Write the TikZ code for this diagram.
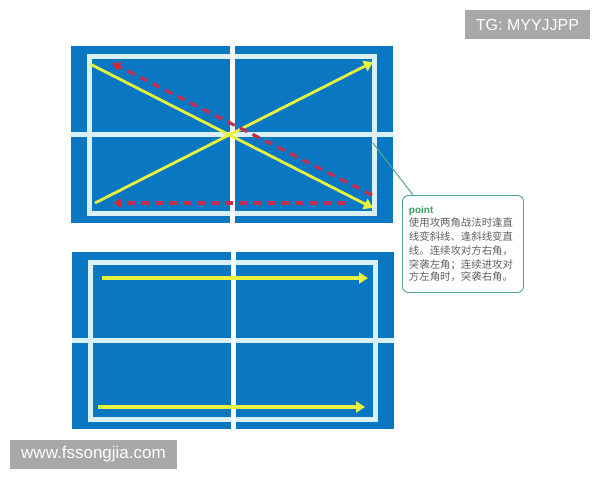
\documentclass[tikz,border=0pt]{standalone}
\usepackage{fontspec}
\setmainfont{Liberation Sans}
\newfontfamily\cjk{Noto Sans CJK SC}
\usetikzlibrary{arrows.meta,calc}
\definecolor{courtblue}{HTML}{0A77C2}
\definecolor{linecyan}{HTML}{D9F1F6}
\definecolor{ballyellow}{HTML}{E9F43C}
\definecolor{dashred}{HTML}{C22F4C}
\definecolor{tipred}{HTML}{E5202E}
\definecolor{noteteal}{HTML}{4FA690}
\definecolor{notegreen}{HTML}{3E9E5E}
\definecolor{notegray}{HTML}{606060}
\definecolor{markgray}{HTML}{A8A8A8}
\tikzset{
  ballpath/.style={ballyellow, line width=2.8, -{Triangle[length=9,width=11]}},
  redpath/.style={dashred, line width=3.2, dash pattern=on 8 off 6,
    -{Latex[length=8,width=10,color=tipred]}},
  markbox/.style={fill=markgray, text=white, inner sep=0, minimum height=29}
}
\def\court(#1,#2){%
  \begin{scope}[shift={(#1,#2)}]
    \fill[courtblue] (0,0) rectangle (322,177);
    \draw[linecyan, line width=5] (0,88.5) -- (322,88.5);
    \draw[linecyan, line width=5] (18.5,10) rectangle (303.5,167.5);
    \fill[white] (158.5,0) rectangle (163.5,177);
  \end{scope}}

\begin{document}
\begin{tikzpicture}[x=1pt,y=-1pt]
			%%%%% START %%%%%
			\useasboundingbox (0,0) rectangle (600,480);
			
			\court(71,46)
			\court(72,252)
			
			% top court: cross shots
			\draw[ballpath] (90,64) -- (373,208);
			\draw[ballpath] (95,203) -- (373,62);
			\draw[redpath] (372,195) -- (112,63);
			\draw[redpath] (345,203) -- (113,203);
			
			% bottom court: straight shots
			\draw[ballpath, line width=3.2] (102,278) -- (368,278);
			\draw[ballpath, line width=3.2] (98,407) -- (365,407);
			
			% note
			\node[draw=noteteal, fill=white, rounded corners=6, line width=0.9,
			  minimum width=121, minimum height=97, text width=108, inner xsep=6.5,
			  align=left, anchor=north west] (note) at (402,195)
			  {{\color{notegreen}\fontsize{10}{12}\selectfont\bfseries point}\\[-1pt]
			   \color{notegray}\cjk\fontsize{10.4}{14.2}\selectfont
			   使用攻两角战法时逢直\\线变斜线、逢斜线变直\\线。连续攻对方右角，\\突袭左角；连续进攻对\\方左角时，突袭右角。};
			\coordinate (netend) at (373,143);
			\draw[noteteal, line width=1] (netend) -- ($(note.north west)+(11,0)$);
			
			% marks
			\node[markbox, minimum width=125, font=\fontsize{16}{16}\selectfont] (tg) at (527.5,24.5) {TG: MYYJJPP};
			\node[markbox, minimum width=167, font=\fontsize{17}{17}\selectfont] (site) at (93.5,454.5) {www.fssongjia.com};
			
			%%%%% END %%%%%
\end{tikzpicture}
\end{document}
